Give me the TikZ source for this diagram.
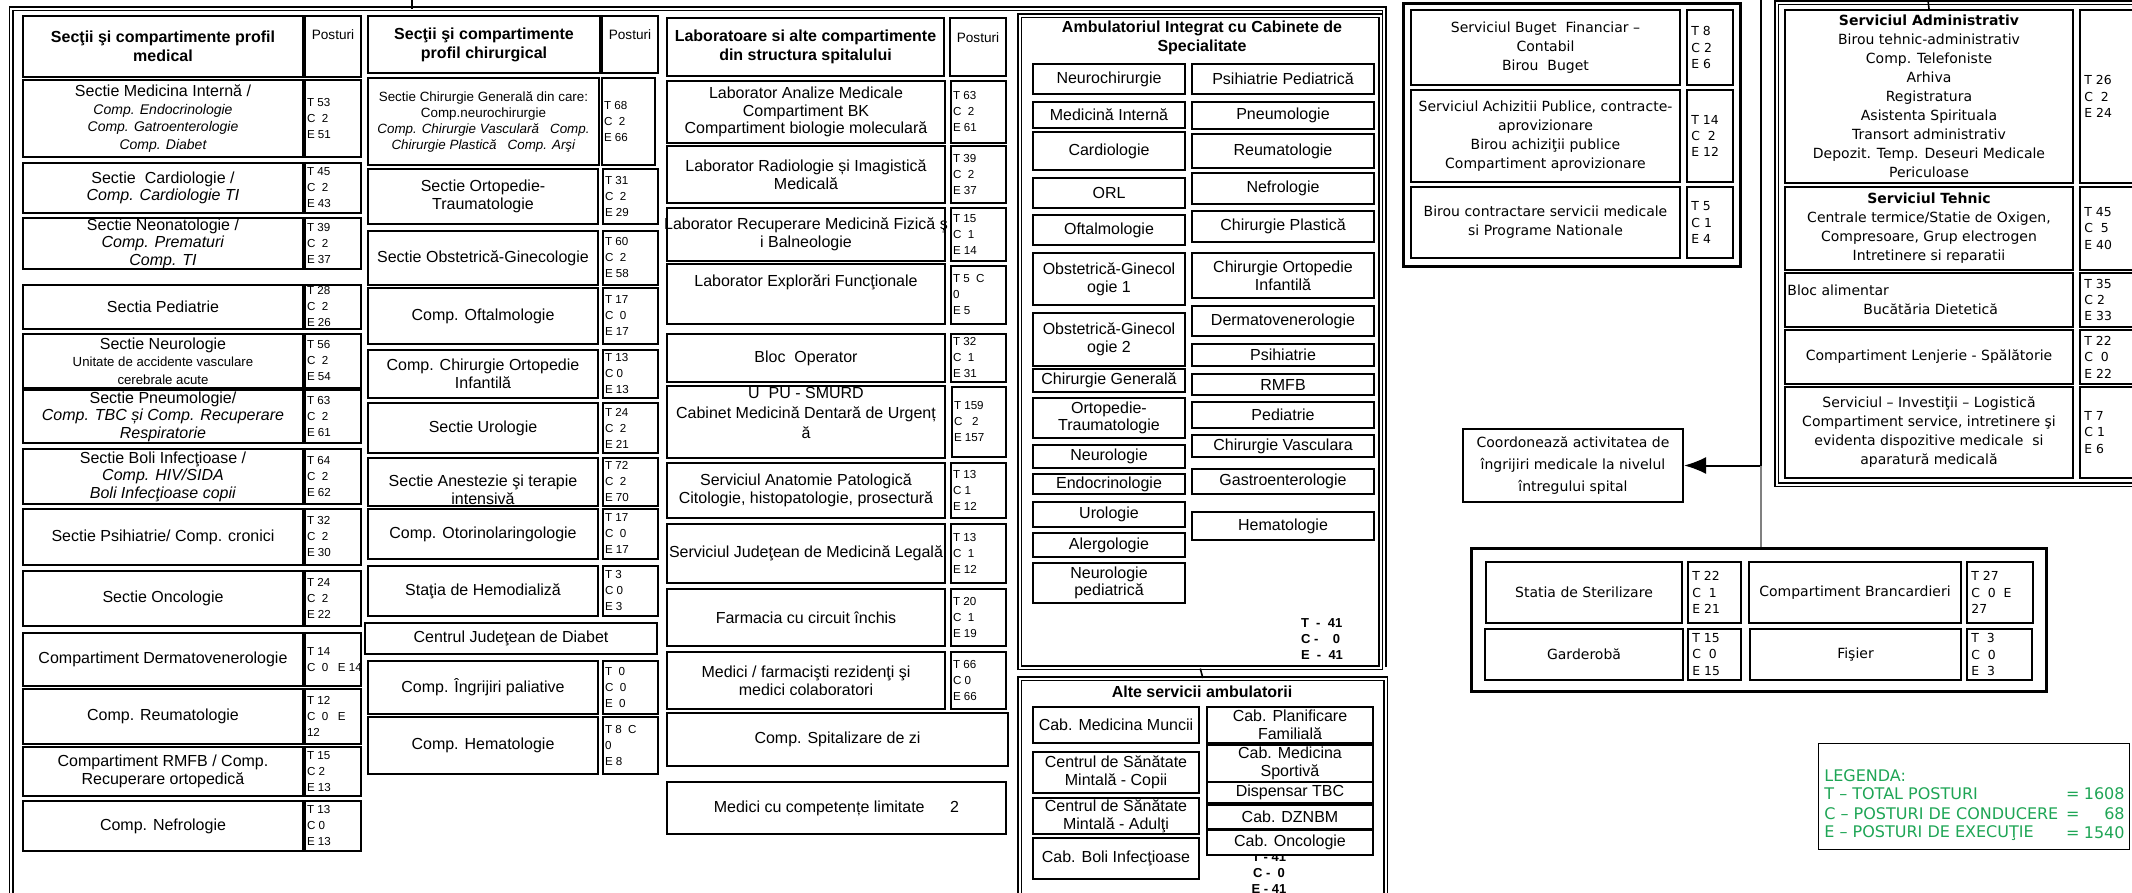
\documentclass[tikz,border=0pt]{standalone}
\usepackage{fontspec}
\setmainfont{Liberation Sans}
\newfontfamily\dejavu{DejaVu Sans}
\usetikzlibrary{arrows.meta,positioning,calc}
\definecolor{lgreen}{RGB}{30,165,85}
\tikzset{
  box/.style={draw,line width=1pt,fill=white,inner sep=0pt},
  frame/.style={draw,line width=1.4pt,inner sep=0pt},
  dframe/.style={draw,double,line width=0.8pt,double distance=0.9pt,inner sep=0pt},
  lframe/.style={draw,line width=0.6pt,inner sep=0pt},
  txt/.style={font=\fontsize{8}{8.8}\selectfont,align=center,inner sep=0pt},
  hd/.style={font=\bfseries\fontsize{8}{9.5}\selectfont,align=center,inner sep=0pt},
  post/.style={font=\fontsize{5.8}{8}\selectfont,align=left,inner sep=0pt,anchor=west,xshift=1.3pt},
  rt/.style={font=\dejavu\fontsize{7}{9.5}\selectfont,align=center,inner sep=0pt},
  rpost/.style={font=\dejavu\fontsize{6.2}{8.2}\selectfont,align=left,inner sep=0pt,anchor=west,xshift=2.5pt},
  tot/.style={font=\bfseries\fontsize{6.5}{8}\selectfont,align=left,inner sep=0pt},
  lg/.style={font=\dejavu\fontsize{8}{9.5}\selectfont,text=lgreen,inner sep=0pt},
}
\newcommand\ic[1]{{\fontsize{7}{8}\selectfont\itshape #1}}
\newcommand\sm[1]{{\fontsize{6.6}{8}\selectfont #1}}
\newcommand\frm[6][frame]{\pgfmathsetmacro\bxw{(#5-#3)/2}\pgfmathsetmacro\bxh{(#6-#4)/2}%
  \node[#1,minimum width=\bxw pt,minimum height=\bxh pt,anchor=north west] (#2) at (#3,#4) {};}
\newcommand\cell[7][txt]{\pgfmathsetmacro\bxw{(#5-#3)/2}\pgfmathsetmacro\bxh{(#6-#4)/2}%
  \node[box,minimum width=\bxw pt,minimum height=\bxh pt,anchor=north west] (#2) at (#3,#4) {};%
  \node[#1] (#2-t) at (#2.center) {#7};}
\newcommand\pcell[7][post]{\pgfmathsetmacro\bxw{(#5-#3)/2}\pgfmathsetmacro\bxh{(#6-#4)/2}%
  \node[box,minimum width=\bxw pt,minimum height=\bxh pt,anchor=north west] (#2) at (#3,#4) {};%
  \node[#1] (#2-t) at (#2.west) {#7};}
\begin{document}
\begin{tikzpicture}[x=0.5pt,y=-0.5pt]
\useasboundingbox (0,0) rectangle (2132,893);
\clip (0,0) rectangle (2132,893);
\draw[dframe] (11,925) |- (1384,9) -- (1384,667);
\coordinate (medA) at (412,9);
\frm[dframe]{amb}{1019}{15}{1380}{667}
\frm[dframe]{alt}{1019}{678}{1385}{925}
\frm{fin}{1402}{2}{1739}{265}
\frm[dframe]{adm}{1776}{2}{2145}{484}
\frm{bot}{1470}{547}{2045}{690}
\frm[lframe]{leg}{1818}{743}{2129}{849}
% sectii medicale
\cell[hd]{h1}{22}{15}{302}{76}{Secţii şi compartimente profil\\medical}
\cell[txt,font=\fontsize{6.8}{8}\selectfont,yshift=6pt]{h1-p}{304}{15}{360}{76}{Posturi}
\foreach \nm/\ya/\yb/\lab/\pst in {
  mi/79/156/{Sectie Medicina Internă /\\\ic{Comp. Endocrinologie}\\\ic{Comp. Gatroenterologie}\\\ic{Comp. Diabet}}/{T 53\\C\ \ 2\\E 51},
  ca/162/212/{Sectie\ \ Cardiologie /\\\textit{Comp. Cardiologie TI}}/{T 45\\C\ \ 2\\E 43},
  ne/217/268/{Sectie Neonatologie /\\\textit{Comp. Prematuri}\\\textit{Comp. TI}}/{T 39\\C\ \ 2\\E 37},
  pe/284/328/{Sectia Pediatrie}/{T 28\\C\ \ 2\\E 26},
  nr/333/387/{Sectie Neurologie\\\sm{Unitate de accidente vasculare}\\\sm{cerebrale acute}}/{T 56\\C\ \ 2\\E 54},
  pn/389/442/{Sectie Pneumologie/\\\textit{Comp. TBC și Comp. Recuperare}\\\textit{Respiratorie}}/{T 63\\C\ \ 2\\E 61},
  bi/448/503/{Sectie Boli Infecţioase /\\\textit{Comp. HIV/SIDA}\\\textit{Boli Infecţioase copii}}/{T 64\\C\ \ 2\\E 62},
  ps/508/564/{Sectie Psihiatrie/ Comp. cronici}/{T 32\\C\ \ 2\\E 30},
  on/570/625/{Sectie Oncologie}/{T 24\\C\ \ 2\\E 22},
  dv/632/685/{Compartiment Dermatovenerologie}/{T 14\\C\ \ 0\ \ \ E 14},
  re/688/743/{Comp. Reumatologie}/{T 12\\C\ \ 0\ \ \ E\\12},
  rm/746/795/{Compartiment RMFB / Comp.\\Recuperare ortopedică}/{T 15\\C 2\\E 13},
  nf/800/850/{Comp. Nefrologie}/{T 13\\C 0\\E 13}}
  {\cell{\nm}{22}{\ya}{302}{\yb}{\lab}\pcell{\nm-p}{304}{\ya}{360}{\yb}{\pst}}
% sectii chirurgicale
\cell[hd]{h2}{367}{15}{599}{72}{Secţii şi compartimente\\profil chirurgical}
\cell[txt,font=\fontsize{6.8}{8}\selectfont,yshift=5pt]{h2-p}{601}{15}{657}{72}{Posturi}
\cell[txt,font=\fontsize{6.7}{8}\selectfont]{cg}{367}{77}{598}{164}{Sectie Chirurgie Generală din care:\\Comp.neurochirurgie\\\textit{Comp. Chirurgie Vasculară\ \ \ Comp.}\\\textit{Chirurgie Plastică\ \ \ Comp. Arşi}}
\pcell{cg-p}{601}{77}{654}{164}{T 68\\C\ \ 2\\E 66}
\foreach \nm/\ya/\yb/\lab/\pst in {
  ot/168/223/{Sectie Ortopedie-\\Traumatologie}/{T 31\\C\ \ 2\\E 29},
  og/230/284/{Sectie Obstetrică-Ginecologie}/{T 60\\C\ \ 2\\E 58},
  of/287/343/{Comp. Oftalmologie}/{T 17\\C\ \ 0\\E 17},
  co/349/397/{Comp. Chirurgie Ortopedie\\Infantilă}/{T 13\\C 0\\E 13},
  ur/402/452/{Sectie Urologie}/{T 24\\C\ \ 2\\E 21},
  orl/508/558/{Comp. Otorinolaringologie}/{T 17\\C\ \ 0\\E 17},
  hd/565/615/{Staţia de Hemodializă}/{T 3\\C 0\\E 3},
  ip/660/713/{Comp. Îngrijiri paliative}/{T\ \ 0\\C\ \ 0\\E\ \ 0},
  he/716/773/{Comp. Hematologie}/{T 8\ \ C\\0\\E 8}}
  {\cell{\nm}{367}{\ya}{597}{\yb}{\lab}\pcell{\nm-p}{602}{\ya}{657}{\yb}{\pst}}
\cell[txt,yshift=-4pt]{an}{367}{457}{597}{505}{Sectie Anestezie şi terapie\\intensivă}
\pcell{an-p}{602}{457}{657}{505}{T 72\\C\ \ 2\\E 70}
\cell{cjd}{364}{622}{656}{653}{Centrul Judeţean de Diabet}
% laboratoare
\cell[hd]{h3}{666}{17}{943}{75}{Laboratoare si alte compartimente\\din structura spitalului}
\cell[txt,font=\fontsize{6.8}{8}\selectfont,yshift=4.5pt]{h3-p}{949}{17}{1005}{75}{Posturi}
\foreach \nm/\ya/\yb/\lab/\pst in {
  la/80/142/{Laborator Analize Medicale\\Compartiment BK\\Compartiment biologie moleculară}/{T 63\\C\ \ 2\\E 61},
  lr/145/202/{Laborator Radiologie și Imagistică\\Medicală}/{T 39\\C\ \ 2\\E 37},
  lf/207/260/{Laborator Recuperare Medicină Fizică ş\\i Balneologie}/{T 15\\C\ \ 1\\E 14},
  bo/333/381/{Bloc\ \ Operator}/{T 32\\C\ \ 1\\E 31},
  ap/462/517/{Serviciul Anatomie Patologică\\Citologie, histopatologie, prosectură}/{T 13\\C 1\\E 12},
  ml/523/582/{Serviciul Judeţean de Medicină Legală}/{T 13\\C\ \ 1\\E 12},
  fa/588/645/{Farmacia cu circuit închis}/{T 20\\C\ \ 1\\E 19},
  mr/651/708/{Medici / farmacişti rezidenţi şi\\medici colaboratori}/{T 66\\C 0\\E 66}}
  {\cell{\nm}{666}{\ya}{944}{\yb}{\lab}\pcell{\nm-p}{950}{\ya}{1005}{\yb}{\pst}}
\cell[txt,yshift=6pt]{le}{666}{263}{944}{323}{Laborator Explorări Funcţionale}
\pcell{le-p}{950}{265}{1005}{323}{T 5\ \ C\\0\\E 5}
\cell[txt,yshift=4.5pt,font=\fontsize{8}{10}\selectfont]{up}{666}{385}{944}{457}{U\ \ PU - SMURD\\Cabinet Medicină Dentară de Urgenț\\ă}
\pcell{up-p}{951}{386}{1005}{456}{T 159\\C\ \ \ 2\\E 157}
\cell{sz}{666}{712}{1007}{765}{Comp. Spitalizare de zi}
\cell{mc}{666}{781}{1005}{833}{Medici cu competențe limitate\hspace{1.6em}2}
% ambulatoriu
\node[hd] (amb-h) at (1202,38) {Ambulatoriul Integrat cu Cabinete de\\Specialitate};
\node[tot] (amb-s) at (1322,639) {T\ \ -\ \ 41\\C -\ \ \ \ 0\\E\ \ -\ \ 41};
\foreach \nm/\ya/\yb/\lab in {a1/63/93/Neurochirurgie, a2/101/127/Medicină Internă, a3/131/169/Cardiologie,
  a4/177/207/ORL, a5/214/244/Oftalmologie, a6/252/304/{Obstetrică-Ginecol\\ogie 1}, a7/312/365/{Obstetrică-Ginecol\\ogie 2},
  a8/368/391/Chirurgie Generală, a9/397/437/{Ortopedie-\\Traumatologie}, a10/444/467/Neurologie,
  a11/473/493/Endocrinologie, a12/501/526/Urologie, a13/532/556/Alergologie, a14/562/602/{Neurologie\\pediatrică}}
  {\cell{\nm}{1032}{\ya}{1184}{\yb}{\lab}}
\foreach \nm/\ya/\yb/\lab in {b1/63/93/Psihiatrie Pediatrică, b2/101/128/Pneumologie, b3/133/167/Reumatologie,
  b4/172/203/Nefrologie, b5/210/241/Chirurgie Plastică, b6/252/297/{Chirurgie Ortopedie\\Infantilă},
  b7/305/335/Dermatovenerologie, b8/343/365/Psihiatrie, b9/373/394/RMFB, b10/401/427/Pediatrie,
  b11/434/456/Chirurgie Vasculara, b12/468/493/Gastroenterologie, b13/511/539/Hematologie}
  {\cell{\nm}{1191}{\ya}{1373}{\yb}{\lab}}
\node[hd] (alt-h) at (1202,692) {Alte servicii ambulatorii};
\node[tot,align=center] (alt-s) at (1269,873) {T - 41\\C - \ 0\\E - 41};
\foreach \nm/\ya/\yb/\lab in {c1/706/742/Cab. Medicina Muncii, c2/751/792/{Centrul de Sănătate\\Mintală - Copii},
  c3/797/833/{Centrul de Sănătate\\Mintală - Adulţi}, c4/837/878/Cab. Boli Infecţioase}
  {\cell{\nm}{1032}{\ya}{1198}{\yb}{\lab}}
\foreach \nm/\ya/\yb/\lab in {d1/706/742/{Cab. Planificare\\Familială}, d2/744/781/{Cab. Medicina\\Sportivă},
  d3/781/802/Dispensar TBC, d4/804/828/Cab. DZNBM, d5/829/854/Cab. Oncologie}
  {\cell{\nm}{1206}{\ya}{1372}{\yb}{\lab}}
% servicii economice
\foreach \nm/\ya/\yb/\lab/\pst in {
  bu/9/84/{Serviciul Buget\ \ Financiar –\\Contabil\\Birou\ \ Buget}/{T 8\\C 2\\E 6},
  ac/89/181/{Serviciul Achizitii Publice, contracte-\\aprovizionare\\Birou achiziţii publice\\Compartiment aprovizionare}/{T 14\\C\ \ 2\\E 12},
  bc/186/257/{Birou contractare servicii medicale\\si Programe Nationale}/{T 5\\C 1\\E 4}}
  {\cell[rt]{\nm}{1410}{\ya}{1679}{\yb}{\lab}\pcell[rpost]{\nm-p}{1686}{\ya}{1732}{\yb}{\pst}}
\foreach \nm/\ya/\yb/\lab/\pst in {
  sa/9/182/{\textbf{Serviciul Administrativ}\\Birou tehnic-administrativ\\Comp. Telefoniste\\Arhiva\\Registratura\\Asistenta Spirituala\\Transort administrativ\\Depozit. Temp. Deseuri Medicale\\Periculoase}/{T 26\\C\ \ 2\\E 24},
  st/186/269/{\textbf{Serviciul Tehnic}\\Centrale termice/Statie de Oxigen,\\Compresoare, Grup electrogen\\Intretinere si reparatii}/{T 45\\C\ \ 5\\E 40},
  lj/329/383/{Compartiment Lenjerie - Spălătorie}/{T 22\\C\ \ 0\\E 22},
  iv/386/477/{Serviciul – Investiţii – Logistică\\Compartiment service, intretinere şi\\evidenta dispozitive medicale\ \ si\\aparatură medicală}/{T 7\\C 1\\E 6}}
  {\cell[rt]{\nm}{1784}{\ya}{2072}{\yb}{\lab}\pcell[rpost]{\nm-p}{2079}{\ya}{2140}{\yb}{\pst}}
\cell[rt,align=left,anchor=west,xshift=-71pt]{ba}{1784}{272}{2072}{326}{Bloc alimentar\\\hspace*{38pt}Bucătăria Dietetică}
\pcell[rpost]{ba-p}{2079}{272}{2140}{326}{T 35\\C 2\\E 33}
\cell[rt,font=\dejavu\fontsize{7}{11.2}\selectfont]{crd}{1462}{428}{1682}{501}{Coordonează activitatea de\\îngrijiri medicale la nivelul\\întregului spital}
\cell[rt]{sts}{1485}{561}{1681}{622}{Statia de Sterilizare}
\pcell[rpost]{sts-p}{1687}{561}{1740}{622}{T 22\\C\ \ 1\\E 21}
\cell[rt]{br}{1748}{561}{1960}{622}{Compartiment Brancardieri}
\pcell[rpost]{br-p}{1966}{561}{2032}{622}{T 27\\C\ \ 0\ \ E\\27}
\cell[rt]{ga}{1484}{628}{1682}{679}{Garderobă}
\pcell[rpost]{ga-p}{1687}{628}{1740}{679}{T 15\\C\ \ 0\\E 15}
\cell[rt]{fi}{1749}{628}{1960}{679}{Fişier}
\pcell[rpost]{fi-p}{1966}{628}{2031}{679}{T\ \ 3\\C\ \ 0\\E\ \ 3}
% legenda
\node[lg,anchor=west] (lgh) at (1824,776) {LEGENDA:};
\foreach \yy/\lab/\val [count=\i] in {794/{T – TOTAL POSTURI}/1608,814/{C – POSTURI DE CONDUCERE}/68,833/{E – POSTURI DE EXECUŢIE}/1540}{
  \node[lg,anchor=west] (lgl\i) at (1824,\yy) {\lab};
  \node[lg,anchor=east] (lgv\i) at (2125,\yy) {= \makebox[20pt][r]{\val}};}
% legaturi
\coordinate (inA) at (412,0);
\coordinate (inB) at (1761,0);
\coordinate (inC) at (1928,0);
\draw[line width=0.8pt] (inA) -- (medA);
\draw[line width=0.8pt] (inC) -- (sa.north);
\draw[line width=1pt,-{Latex[length=11pt,width=8.5pt]}] (inB) |- (crd.east);
\coordinate (kB) at (inB |- crd.east);
\draw[gray,line width=0.6pt] (kB) -- (kB |- bot.north);
\draw[line width=0.8pt] (amb.south) -- (alt.north);
\end{tikzpicture}
\end{document}
